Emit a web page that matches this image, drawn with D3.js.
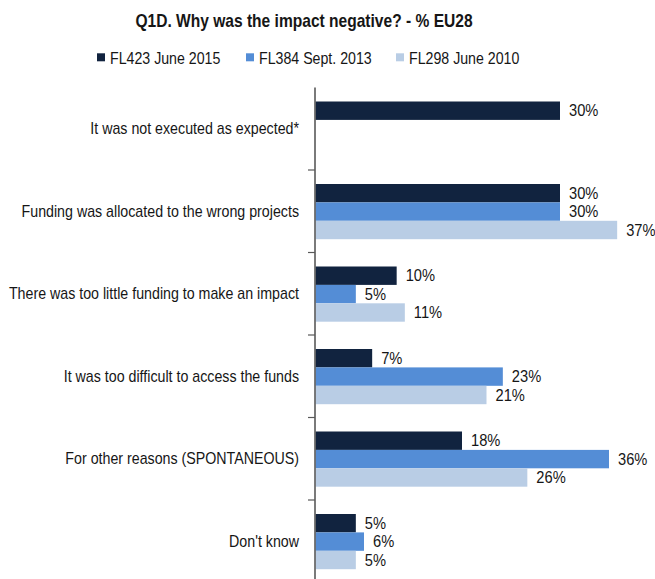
<!DOCTYPE html>
<html>
<head>
<meta charset="utf-8">
<script src="https://cdn.jsdelivr.net/npm/d3@7"></script>
<style>
  html, body { margin: 0; padding: 0; background: #ffffff; }
  svg { display: block; font-family: "Liberation Sans", Arial, sans-serif; }
</style>
</head>
<body>
<svg id="chart" width="655" height="579"></svg>
<script>
// Survey answers, one row per reason
const categories = [
  "It was not executed as expected*",
  "Funding was allocated to the wrong projects",
  "There was too little funding to make an impact",
  "It was too difficult to access the funds",
  "For other reasons (SPONTANEOUS)",
  "Don't know"
];

// Survey waves
const seriesNames = ["FL423 June 2015", "FL384 Sept. 2013", "FL298 June 2010"];
const seriesColors = ["#11233f", "#548dd6", "#b9cde5"];

// Percentages per wave (null = answer not offered in that wave)
const fl423 = [30, 30, 10, 7, 18, 5];
const fl384 = [null, 30, 5, 23, 36, 6];
const fl298 = [null, 37, 11, 21, 26, 5];
const seriesValues = [fl423, fl384, fl298];

const titleText = "Q1D. Why was the impact negative? - % EU28";

const svg = d3.select("#chart");
const textColor = "#161616";

// Scales
const axisX = 315;
const x = d3.scaleLinear().domain([0, 30]).range([axisX, 560]);
const y = d3.scaleBand().domain(categories).range([87.5, 87.5 + 82.5 * categories.length]).paddingInner(0).paddingOuter(0);
const inner = d3.scaleBand().domain(seriesNames).range([14, 69.2]).padding(0);

// Title
svg.append("g")
  .attr("transform", "translate(304,27) scale(0.89,1)")
  .append("text")
  .attr("text-anchor", "middle")
  .attr("font-size", 17.5)
  .attr("font-weight", "bold")
  .attr("fill", textColor)
  .text(titleText);

// Legend
const legendX = [97, 246, 396];
const legend = svg.append("g").selectAll("g")
  .data(seriesNames)
  .join("g")
  .attr("transform", (d, i) => `translate(${legendX[i]},53.3)`);
legend.append("rect")
  .attr("width", 8).attr("height", 8)
  .attr("fill", (d, i) => seriesColors[i]);
legend.append("g")
  .attr("transform", "translate(13,10.2) scale(0.887,1)")
  .append("text")
  .attr("font-size", 16)
  .attr("fill", textColor)
  .text(d => d);

// Bars
const rows = [];
seriesValues.forEach((vals, si) => {
  vals.forEach((v, ci) => {
    if (v !== null) rows.push({ cat: categories[ci], series: seriesNames[si], si, value: v });
  });
});

const barG = svg.append("g");
barG.selectAll("rect")
  .data(rows)
  .join("rect")
  .attr("x", x(0) + 0.5)
  .attr("y", d => y(d.cat) + inner(d.series))
  .attr("width", d => x(d.value) - x(0) - 0.5)
  .attr("height", inner.bandwidth())
  .attr("fill", d => seriesColors[d.si]);

// Value labels
barG.selectAll("g.val")
  .data(rows)
  .join("g")
  .attr("class", "val")
  .attr("transform", d => `translate(${x(d.value) + 9},${y(d.cat) + inner(d.series) + inner.bandwidth() / 2}) scale(0.89,1)`)
  .append("text")
  .attr("dy", "0.35em")
  .attr("font-size", 16.5)
  .attr("fill", textColor)
  .text(d => d.value + "%");

// Category axis: labels from d3.axisLeft, separators at band boundaries
const axisG = svg.append("g")
  .attr("transform", `translate(${axisX},0)`)
  .call(d3.axisLeft(y).tickSize(0).tickPadding(0));
axisG.select(".domain").remove();
axisG.selectAll(".tick text")
  .attr("x", 0)
  .attr("dy", "0.34em")
  .attr("font-size", 16)
  .attr("font-family", "Liberation Sans, Arial, sans-serif")
  .attr("fill", textColor)
  .attr("transform", "translate(-16,0) scale(0.89,1)");

svg.append("line")
  .attr("x1", axisX).attr("x2", axisX)
  .attr("y1", y.range()[0]).attr("y2", y.range()[1])
  .attr("stroke", "#595959").attr("stroke-width", 1.6);

svg.append("g").selectAll("line")
  .data(categories.slice(1))
  .join("line")
  .attr("x1", axisX - 7).attr("x2", axisX)
  .attr("y1", d => y(d)).attr("y2", d => y(d))
  .attr("stroke", "#595959").attr("stroke-width", 1.2);
</script>
</body>
</html>
